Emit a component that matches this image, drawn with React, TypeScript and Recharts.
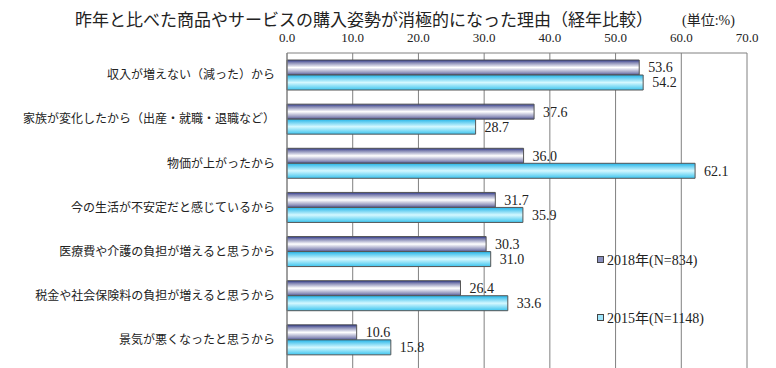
import React from 'react'
import { BarChart, Bar, XAxis, YAxis, CartesianGrid, LabelList } from 'recharts'

const CATEGORIES = [
  '収入が増えない（減った）から',
  '家族が変化したから（出産・就職・退職など）',
  '物価が上がったから',
  '今の生活が不安定だと感じているから',
  '医療費や介護の負担が増えると思うから',
  '税金や社会保険料の負担が増えると思うから',
  '景気が悪くなったと思うから',
]
const Y2018 = [53.6, 37.6, 36.0, 31.7, 30.3, 26.4, 10.6]
const Y2015 = [54.2, 28.7, 62.1, 35.9, 31.0, 33.6, 15.8]
const X_TICKS = [0, 10, 20, 30, 40, 50, 60, 70]

const SERIES = [
  { key: 'y2018', name: '2018年(N=834)', fill: 'url(#g2018)', swatch: '#8a8fc0' },
  { key: 'y2015', name: '2015年(N=1148)', fill: 'url(#g2015)', swatch: '#9fe6fb' },
]

const data = CATEGORIES.map((c, i) => ({ cat: c, y2018: Y2018[i], y2015: Y2015[i] }))

const SERIF = '"Liberation Serif", "Noto Sans CJK JP", serif'
const SANS = '"Noto Sans CJK JP", sans-serif'

// legend drawn as an overlay so it doesn't steal plot height
function LegendBox() {
  return (
    <div style={{ position: 'absolute', left: 597, top: 250, fontFamily: SERIF, fontSize: 14, color: '#222', whiteSpace: 'nowrap' }}>
      {SERIES.map((s, i) => (
        <div key={s.key} style={{ display: 'flex', alignItems: 'center', height: 18, marginBottom: i === 0 ? 40 : 0 }}>
          <span style={{ display: 'inline-block', width: 5, height: 5, border: '1px solid #444', background: s.swatch, marginRight: 3 }} />
          {s.name}
        </div>
      ))}
    </div>
  )
}

export default function App() {
  return (
    <div style={{ position: 'absolute', left: 0, top: 0, width: 776, height: 368, overflow: 'hidden', background: '#fff' }}>
      <div style={{ position: 'absolute', left: 75, top: 6, fontFamily: SANS, fontSize: 17, color: '#222', whiteSpace: 'nowrap' }}>
        昨年と比べた商品やサービスの購入姿勢が消極的になった理由（経年比較）
      </div>
      <div style={{ position: 'absolute', left: 682, top: 9, fontFamily: SERIF, fontSize: 14, color: '#222', whiteSpace: 'nowrap' }}>
        (単位:%)
      </div>
      <BarChart
        width={776}
        height={380}
        data={data}
        layout="vertical"
        margin={{ top: 23, right: 29, left: 0, bottom: 0 }}
        barSize={15}
        barGap={0}
      >
        <defs>
          <linearGradient id="g2018" x1="0" y1="0" x2="0" y2="1">
            <stop offset="0" stopColor="#28348a" />
            <stop offset="0.15" stopColor="#7a7eae" />
            <stop offset="0.5" stopColor="#ffffff" />
            <stop offset="0.85" stopColor="#8f92bb" />
            <stop offset="1" stopColor="#4a5090" />
          </linearGradient>
          <linearGradient id="g2015" x1="0" y1="0" x2="0" y2="1">
            <stop offset="0" stopColor="#22b4e8" />
            <stop offset="0.5" stopColor="#d4f8ff" />
            <stop offset="1" stopColor="#3cc4ee" />
          </linearGradient>
        </defs>
        <CartesianGrid horizontal={false} stroke="#808080" />
        <XAxis
          type="number"
          orientation="top"
          domain={[0, 70]}
          ticks={X_TICKS}
          tickFormatter={(v: number) => v.toFixed(1)}
          height={30}
          tickLine={false}
          tickSize={0}
          tickMargin={11}
          axisLine={{ stroke: '#808080' }}
          tick={{ fontSize: 13, fill: '#222', fontFamily: SERIF }}
          interval={0}
        />
        <YAxis
          type="category"
          dataKey="cat"
          width={287}
          padding={{ top: 0, bottom: 18 }}
          tickLine={false}
          tickSize={0}
          tickMargin={12}
          axisLine={{ stroke: '#808080' }}
          tick={{ fontSize: 12, fill: '#222', fontFamily: SANS }}
          interval={0}
        />
        {SERIES.map((s) => (
          <Bar key={s.key} dataKey={s.key} name={s.name} fill={s.fill} stroke="#555" strokeWidth={1} isAnimationActive={false}>
            <LabelList
              dataKey={s.key}
              position="right"
              offset={9}
              formatter={(v: number) => v.toFixed(1)}
              style={{ fontSize: 14, fill: '#222', fontFamily: SERIF }}
            />
          </Bar>
        ))}
      </BarChart>
      <LegendBox />
    </div>
  )
}
